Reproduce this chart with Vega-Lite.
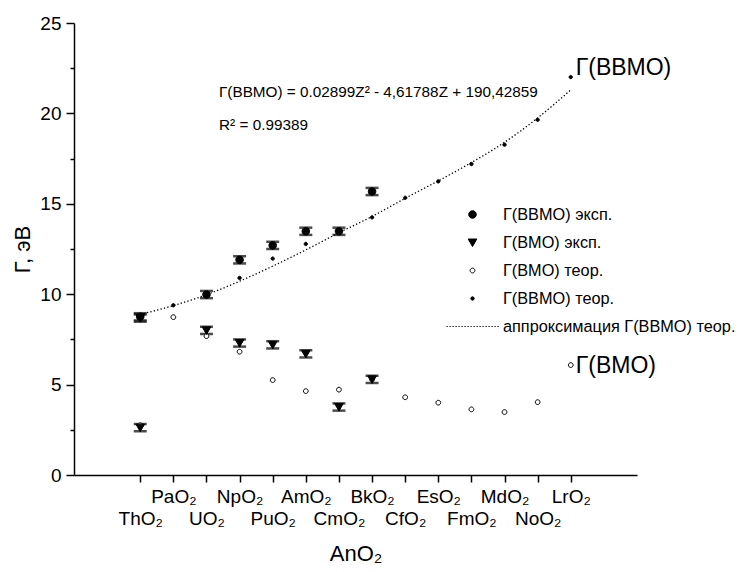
{
  "$schema": "https://vega.github.io/schema/vega-lite/v6.json",
  "width": 563,
  "height": 452,
  "autosize": {"type": "none"},
  "padding": {"left": 74, "top": 23, "right": 107, "bottom": 97},
  "background": "white",
  "config": {
    "font": "Liberation Sans",
    "view": {"stroke": null},
    "axis": {
      "domainColor": "black", "tickColor": "black", "labelColor": "black", "titleColor": "black",
      "domainWidth": 1.5, "tickWidth": 1.5, "grid": false, "titleFontWeight": "normal",
      "labelFont": "Liberation Sans", "titleFont": "Liberation Sans"
    },
    "legend": {
      "orient": "none", "legendX": 384, "legendY": 177,
      "symbolSize": 784, "symbolStrokeColor": "black", "symbolStrokeWidth": 1,
      "labelFontSize": 16.3, "labelFont": "Liberation Sans", "labelColor": "black",
      "labelOffset": 16, "labelLimit": 400, "rowPadding": 5, "padding": 0
    }
  },
  "datasets": {
    "pts": [
      {"s": "Г(ВМО) теор.", "Z": 90, "v": 2.75},
      {"s": "Г(ВМО) теор.", "Z": 91, "v": 8.73},
      {"s": "Г(ВМО) теор.", "Z": 92, "v": 7.68},
      {"s": "Г(ВМО) теор.", "Z": 93, "v": 6.82},
      {"s": "Г(ВМО) теор.", "Z": 94, "v": 5.25},
      {"s": "Г(ВМО) теор.", "Z": 95, "v": 4.64},
      {"s": "Г(ВМО) теор.", "Z": 96, "v": 4.72},
      {"s": "Г(ВМО) теор.", "Z": 97, "v": 5.3},
      {"s": "Г(ВМО) теор.", "Z": 98, "v": 4.3},
      {"s": "Г(ВМО) теор.", "Z": 99, "v": 4.0},
      {"s": "Г(ВМО) теор.", "Z": 100, "v": 3.63},
      {"s": "Г(ВМО) теор.", "Z": 101, "v": 3.48},
      {"s": "Г(ВМО) теор.", "Z": 102, "v": 4.03},
      {"s": "Г(ВМО) теор.", "Z": 103, "v": 6.08},
      {"s": "Г(ВВМО) теор.", "Z": 90, "v": 8.7},
      {"s": "Г(ВВМО) теор.", "Z": 91, "v": 9.39},
      {"s": "Г(ВВМО) теор.", "Z": 92, "v": 10.0},
      {"s": "Г(ВВМО) теор.", "Z": 93, "v": 10.9},
      {"s": "Г(ВВМО) теор.", "Z": 94, "v": 11.97},
      {"s": "Г(ВВМО) теор.", "Z": 95, "v": 12.78},
      {"s": "Г(ВВМО) теор.", "Z": 96, "v": 13.45},
      {"s": "Г(ВВМО) теор.", "Z": 97, "v": 14.25},
      {"s": "Г(ВВМО) теор.", "Z": 98, "v": 15.33},
      {"s": "Г(ВВМО) теор.", "Z": 99, "v": 16.24},
      {"s": "Г(ВВМО) теор.", "Z": 100, "v": 17.2},
      {"s": "Г(ВВМО) теор.", "Z": 101, "v": 18.27},
      {"s": "Г(ВВМО) теор.", "Z": 102, "v": 19.65},
      {"s": "Г(ВВМО) теор.", "Z": 103, "v": 22.01},
      {"s": "Г(ВМО) эксп.", "Z": 90, "v": 8.68, "err": 0.2},
      {"s": "Г(ВМО) эксп.", "Z": 90, "v": 2.62, "err": 0.2},
      {"s": "Г(ВМО) эксп.", "Z": 92, "v": 8.0, "err": 0.2},
      {"s": "Г(ВМО) эксп.", "Z": 93, "v": 7.3, "err": 0.2},
      {"s": "Г(ВМО) эксп.", "Z": 94, "v": 7.2, "err": 0.2},
      {"s": "Г(ВМО) эксп.", "Z": 95, "v": 6.7, "err": 0.2},
      {"s": "Г(ВМО) эксп.", "Z": 96, "v": 3.76, "err": 0.2},
      {"s": "Г(ВМО) эксп.", "Z": 97, "v": 5.29, "err": 0.2},
      {"s": "Г(ВВМО) эксп.", "Z": 90, "v": 8.75, "err": 0.2},
      {"s": "Г(ВВМО) эксп.", "Z": 92, "v": 9.98, "err": 0.2},
      {"s": "Г(ВВМО) эксп.", "Z": 93, "v": 11.9, "err": 0.2},
      {"s": "Г(ВВМО) эксп.", "Z": 94, "v": 12.7, "err": 0.2},
      {"s": "Г(ВВМО) эксп.", "Z": 95, "v": 13.48, "err": 0.2},
      {"s": "Г(ВВМО) эксп.", "Z": 96, "v": 13.48, "err": 0.2},
      {"s": "Г(ВВМО) эксп.", "Z": 97, "v": 15.68, "err": 0.2}
    ],
    "fit": [
      {"Z": 90, "v": 8.88},
      {"Z": 91, "v": 9.37},
      {"Z": 92, "v": 9.97},
      {"Z": 93, "v": 10.72},
      {"Z": 94, "v": 11.55},
      {"Z": 95, "v": 12.45},
      {"Z": 96, "v": 13.4},
      {"Z": 97, "v": 14.3},
      {"Z": 98, "v": 15.3},
      {"Z": 99, "v": 16.27},
      {"Z": 100, "v": 17.28},
      {"Z": 101, "v": 18.4},
      {"Z": 102, "v": 19.75},
      {"Z": 103, "v": 21.3}
    ],
    "eq": [
      {"Z": 92.38, "v": 21.2, "t": "Г(ВВМО) = 0.02899Z² - 4,61788Z + 190,42859"},
      {"Z": 92.38, "v": 19.37, "t": "R² = 0.99389"}
    ],
    "lbl1": [{"Z": 103, "v": 22.01, "t": "Г(ВВМО)"}],
    "lbl2": [{"Z": 103, "v": 6.08, "t": "Г(ВМО)"}]
  },
  "encoding": {
    "x": {
      "field": "Z", "type": "quantitative",
      "scale": {"domain": [88, 105], "nice": false, "zero": false},
      "axis": {
        "values": [90, 91, 92, 93, 94, 95, 96, 97, 98, 99, 100, 101, 102, 103],
        "labelExpr": "['ThO₂','PaO₂','UO₂','NpO₂','PuO₂','AmO₂','CmO₂','BkO₂','CfO₂','EsO₂','FmO₂','MdO₂','NoO₂','LrO₂'][datum.value - 90]",
        "labelPadding": {"condition": {"test": "datum.value % 2 == 0", "value": 27}, "value": 5},
        "labelFontSize": 19, "labelOverlap": false, "labelFlush": false, "labelBound": false,
        "tickSize": 7,
        "title": "AnO₂", "titleFontSize": 22, "titlePadding": 15
      }
    },
    "y": {
      "field": "v", "type": "quantitative",
      "scale": {"domain": [0, 25], "nice": false},
      "axis": {
        "values": [0, 2.5, 5, 7.5, 10, 12.5, 15, 17.5, 20, 22.5, 25],
        "labelExpr": "datum.value % 5 == 0 ? datum.label : ''",
        "tickSize": {"condition": {"test": "datum.value % 5 == 0", "value": 8}, "value": 4},
        "labelFontSize": 19, "labelPadding": 5, "labelOverlap": false,
        "title": "Г, эВ", "titleFontSize": 22, "titlePadding": 5
      }
    }
  },
  "layer": [
    {
      "data": {"name": "fit"},
      "mark": {"type": "line", "strokeDash": [1.3, 2.2], "strokeWidth": 1.3, "color": "black", "interpolate": "monotone"},
      "encoding": {}
    },
    {
      "data": {"name": "pts"},
      "transform": [{"filter": "datum.err > 0"}],
      "mark": {"type": "errorbar", "color": "black", "thickness": 1.5, "ticks": {"size": 13, "thickness": 2.5, "color": "black"}},
      "encoding": {"yError": {"field": "err"}}
    },
    {
      "data": {"name": "pts"},
      "mark": {"type": "point", "size": 784, "strokeWidth": 1, "opacity": 1},
      "encoding": {
        "shape": {
          "field": "s", "type": "nominal",
          "scale": {
            "domain": ["Г(ВВМО) эксп.", "Г(ВМО) эксп.", "Г(ВМО) теор.", "Г(ВВМО) теор.", "аппроксимация Г(ВВМО) теор."],
            "range": [
              "M-0.27,0A0.27,0.27,0,1,0,0.27,0A0.27,0.27,0,1,0,-0.27,0Z",
              "M-0.31,-0.25L0.31,-0.25L0,0.29Z",
              "M-0.17,0A0.17,0.17,0,1,0,0.17,0A0.17,0.17,0,1,0,-0.17,0Z",
              "M-0.12,0A0.12,0.12,0,1,0,0.12,0A0.12,0.12,0,1,0,-0.12,0Z",
              "M-1.86,0h0.09M-1.646,0h0.09M-1.431,0h0.09M-1.217,0h0.09M-1.003,0h0.09M-0.789,0h0.09M-0.574,0h0.09M-0.36,0h0.09M-0.146,0h0.09M0.069,0h0.09M0.283,0h0.09M0.497,0h0.09M0.711,0h0.09M0.926,0h0.09M1.14,0h0.09M1.354,0h0.09M1.569,0h0.09M1.783,0h0.09"
            ]
          },
          "legend": {"title": null}
        },
        "fill": {
          "field": "s", "type": "nominal",
          "scale": {
            "domain": ["Г(ВВМО) эксп.", "Г(ВМО) эксп.", "Г(ВМО) теор.", "Г(ВВМО) теор.", "аппроксимация Г(ВВМО) теор."],
            "range": ["black", "black", "white", "black", "transparent"]
          },
          "legend": {"title": null}
        },
        "stroke": {
          "field": "s", "type": "nominal",
          "scale": {
            "domain": ["Г(ВВМО) эксп.", "Г(ВМО) эксп.", "Г(ВМО) теор.", "Г(ВВМО) теор.", "аппроксимация Г(ВВМО) теор."],
            "range": ["black", "black", "black", "black", "black"]
          },
          "legend": {"title": null}
        }
      }
    },
    {
      "data": {"name": "eq"},
      "mark": {"type": "text", "align": "left", "baseline": "middle", "fontSize": 15.3, "color": "black", "font": "Liberation Sans"},
      "encoding": {"text": {"field": "t"}}
    },
    {
      "data": {"name": "lbl1"},
      "mark": {"type": "text", "align": "left", "baseline": "alphabetic", "dx": 5, "dy": -2, "fontSize": 23, "color": "black", "font": "Liberation Sans"},
      "encoding": {"text": {"field": "t"}}
    },
    {
      "data": {"name": "lbl2"},
      "mark": {"type": "text", "align": "left", "baseline": "alphabetic", "dx": 5, "dy": 8, "fontSize": 23, "color": "black", "font": "Liberation Sans"},
      "encoding": {"text": {"field": "t"}}
    }
  ]
}
